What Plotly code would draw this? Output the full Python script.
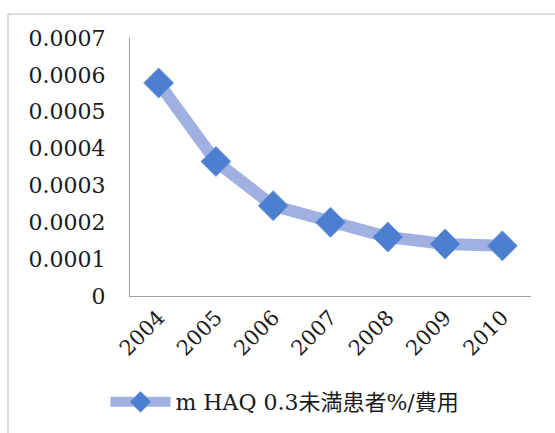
import plotly.graph_objects as go

# Years on the category axis and the ratio plotted for each year
years = ["2004", "2005", "2006", "2007", "2008", "2009", "2010"]
ratio = [0.000578, 0.000365, 0.000245, 0.000200, 0.000160, 0.000141, 0.000136]
y_ticks = [0, 0.0001, 0.0002, 0.0003, 0.0004, 0.0005, 0.0006, 0.0007]
y_tick_text = ["0", "0.0001", "0.0002", "0.0003", "0.0004", "0.0005", "0.0006", "0.0007"]
series_name = "m HAQ 0.3未満患者%/費用"

W, H = 555, 433
L, R, T, B = 130, 24, 38, 136
pw, ph = W - L - R, H - T - B

serif = "DejaVu Serif, Liberation Serif, Noto Sans CJK JP, serif"

fig = go.Figure()
fig.add_trace(go.Scatter(
    x=years, y=ratio, name=series_name, mode="lines+markers",
    line=dict(color="rgba(135,156,218,0.8)", width=12),
    marker=dict(symbol="diamond", size=23, color="#4c7fd0",
                line=dict(color="#6f96dc", width=1)),
))

fig.update_layout(
    width=W, height=H,
    margin=dict(l=L, r=R, t=T, b=B),
    paper_bgcolor="white", plot_bgcolor="white",
    font=dict(family=serif, size=21, color="#1a1a1a"),
    showlegend=True,
    legend=dict(orientation="h", x=(285 - L) / pw, xanchor="center",
                y=(T + ph - 402) / ph, yanchor="middle",
                font=dict(size=22), itemwidth=60),
    xaxis=dict(type="category", showgrid=False, showline=True,
               linecolor="#a0a0a0", linewidth=1, tickangle=-45,
               ticks="", tickfont=dict(size=21), range=[-0.5, 6.5]),
    yaxis=dict(range=[0, 0.0007], tickvals=y_ticks, ticktext=y_tick_text,
               showgrid=False, showline=True, linecolor="#a0a0a0",
               linewidth=1, ticks="outside", ticklen=19,
               tickcolor="rgba(0,0,0,0)", tickfont=dict(size=22),
               zeroline=False),
)

# Chart frame: top and left edges of the outer box
fig.add_shape(type="rect", xref="paper", yref="paper",
              x0=(8 - L) / pw, x1=(W + 5 - L) / pw,
              y0=(T + ph - (H + 5)) / ph, y1=(T + ph - 14) / ph,
              line=dict(color="#b8b8b8", width=1), layer="below")

fig.write_html("out.html")
